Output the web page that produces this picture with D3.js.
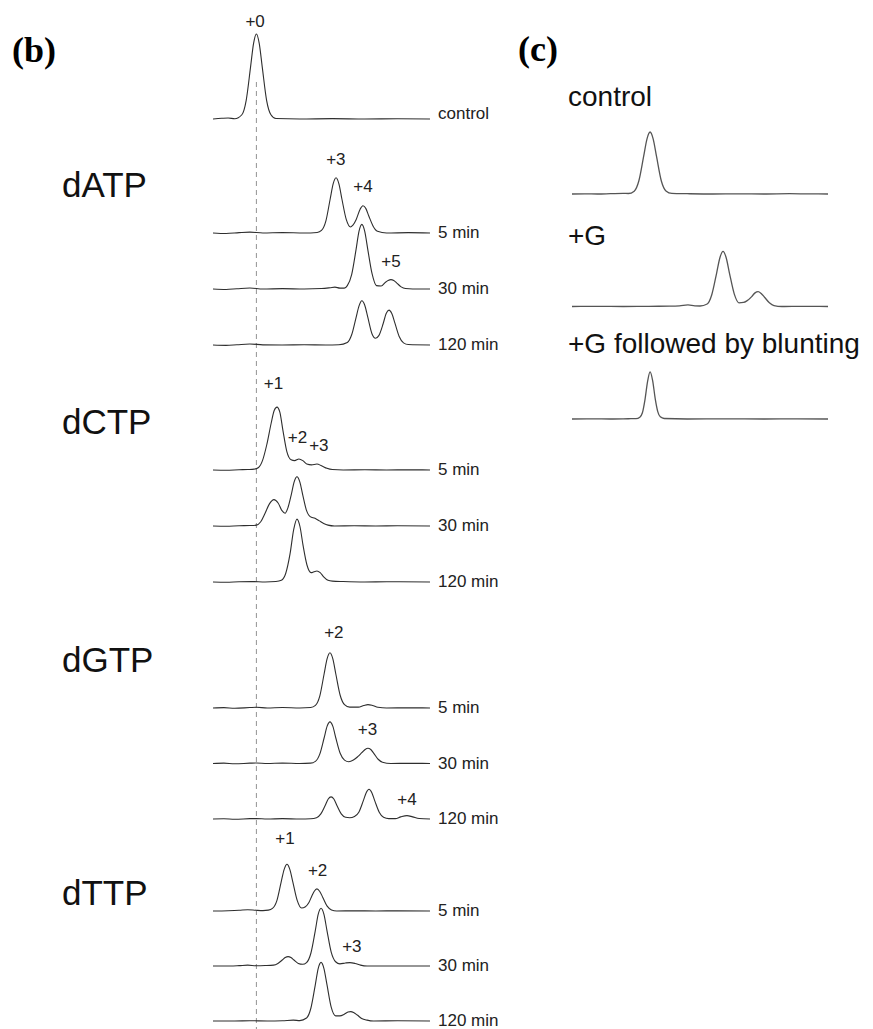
<!DOCTYPE html>
<html><head><meta charset="utf-8">
<script src="https://cdn.jsdelivr.net/npm/d3@7"></script>
<style>body{margin:0;background:#fff}svg{display:block}</style>
</head><body>
<svg id="chart" width="873" height="1029"></svg>
<script>
// ---------- DATA (migration position, signal) ----------
const groupNames = ["dATP", "dCTP", "dGTP", "dTTP"];
const timeLabels = ["5 min", "30 min", "120 min"];

const controlB = [[-20,0],[-16,0.8],[-13,1.2],[-10,0.3],[-6.7,5],[-4.7,22],[-2.7,61],[-1.3,89],[0,100],[1.3,89],[2.7,61],[4.7,22],[6.7,5],[9,0.5],[20,0],[35,0.4],[50,0],[65,0.3],[80,0]];

const dATP5 = [[-20,0],[-14,-0.6],[-8,0.4],[-3,1],[3,0],[12,0.5],[22,0],[28,0.6],[30,3],[32,14],[34,40],[35.4,58],[36.7,65],[38,58],[39.4,40],[41.4,16],[43.4,7],[44.4,9],[46,16],[47.8,28],[49.1,32],[50.4,29],[51.8,20],[53.8,8],[55.8,2],[60,0],[70,0.4],[80,0]];
const dATP30 = [[-20,0],[-14,-0.5],[-9,0.3],[-3,1.2],[3,0],[12,0.4],[22,0],[30,0.5],[34,1.5],[36.2,2.2],[38.5,1],[40.5,1],[41.9,4],[43.9,17],[45.9,46],[47.3,68],[48.6,76],[49.9,68],[51.3,47],[53.3,18],[55.3,4],[57.5,3.5],[59.5,8],[60.7,10],[62,11],[63.3,10],[64.7,7],[66.7,2.5],[68.7,0.5],[72,0],[80,0]];
const dATP120 = [[-20,0],[-14,-0.4],[-9,0.3],[-3,1.2],[3,0.2],[12,0],[22,0.3],[32,0],[38,0.3],[41.9,3],[43.9,12],[45.9,32],[47.3,46],[48.6,52],[49.9,47],[51.3,33],[53.3,13],[54.9,8],[56.4,11],[58.4,25],[59.8,37],[61.1,41],[62.4,37],[63.8,26],[65.8,10],[67.8,2.5],[70,0.5],[80,0]];

const dCTP5 = [[-20,0],[-14,-0.3],[-8,0.3],[-4,0.6],[-1,1],[1,3],[2.8,11],[4.8,30],[6.8,55],[8.2,70],[9.5,74],[10.8,68],[12.2,47],[14,22],[16,12],[17.6,11],[19.6,13],[21.4,11],[23.2,7],[25.4,6],[27.9,7],[30,5],[32.5,2],[35,0.5],[40,0],[50,0.3],[60,0],[70,0.2],[80,0]];
const dCTP30 = [[-20,0],[-14,-0.3],[-8,0.3],[-3,0.5],[0,1],[2,5],[4,15],[6,26],[8.1,31],[10,27],[11.8,18],[13.2,15],[14.6,22],[16,36],[17.4,52],[18.7,58],[20,52],[21.4,36],[23,19],[24.8,11],[27,9],[29,6],[31,3],[33,1],[36,0],[45,0.3],[55,0],[65,0.3],[80,0]];
const dCTP120 = [[-20,0],[-14,-0.3],[-8,0.3],[-2,0.5],[4,0],[9,0.5],[11.5,2],[13.5,10],[15.5,33],[17.2,62],[18.7,74],[20.1,65],[21.5,43],[23.3,20],[25.2,11],[26.5,12],[27.9,13],[29.4,11],[31,6],[33,2],[35,1],[40,0.5],[50,0],[60,0.3],[80,0]];

const dGTP5 = [[-20,0],[-15,0.4],[-10,-0.3],[-3,0.5],[0,0.8],[5,0],[12,0.6],[20,0],[25,0.5],[27.2,3],[29.2,14],[31.2,40],[32.6,58],[33.9,65],[35.2,58],[36.6,40],[38.6,15],[40.6,4],[43,1],[47,1],[49.5,3],[51.4,4],[53.5,3],[56,0.8],[60,0],[70,0.2],[80,0]];
const dGTP30 = [[-20,0],[-15,0.4],[-10,-0.3],[-3,0.4],[0,0.6],[5,0],[12,0.5],[20,0],[25,0.4],[27.2,2.5],[29.2,11],[31.2,30],[32.6,44],[33.9,49],[35.2,44],[36.6,30],[38.6,12],[40.6,4],[42.6,2],[44.7,4],[46.7,8],[48.7,13],[50.1,16.5],[51.4,18],[52.7,16.5],[54.1,12],[56.1,5],[58.1,1.5],[62,0],[70,0.2],[80,0]];
const dGTP120 = [[-20,0],[-15,0.3],[-10,-0.3],[-3,0.4],[0,0.5],[5,0],[12,0.4],[20,0],[25,0.3],[27.7,1.5],[29.7,6],[31.7,16],[33.1,23.5],[34.4,26],[35.7,23.5],[37.1,16],[39.1,6],[41.1,2],[43,1.5],[45.2,3],[47.2,8],[49.2,21],[50.6,31],[51.9,35],[53.2,31],[54.6,21],[56.6,8],[58.6,2],[61,0.5],[64,0.5],[66.5,2.5],[69.4,4],[72,2.5],[75,0.5],[80,0]];

const dTTP5 = [[-20,0],[-13,0.3],[-8,0.8],[-4,1.5],[0,0.8],[3,0.5],[5.5,1],[7.4,3],[9.4,12],[11.4,34],[12.8,49],[14.1,55],[15.4,49],[16.8,34],[18.8,12.5],[20.8,3.5],[22.6,5],[24.2,10],[25.6,18],[26.6,23],[27.9,26],[29.2,23],[30.6,16],[32.6,5.7],[34.6,1.3],[37,0],[45,0.2],[55,0],[65,0.2],[80,0]];
const dTTP30 = [[-20,0],[-12,0],[-8,0.4],[-4,1],[0,0.3],[4,0.5],[7.9,1],[9.9,3],[11.9,7],[13.3,10],[14.6,11],[15.9,10],[17.3,7],[19.3,3],[21.3,2],[23.1,4],[25.1,15],[27.1,41],[28.5,61],[29.8,68],[31.1,61],[32.5,42],[34.5,16],[36.5,5],[38.5,2.5],[41,3.5],[43.1,4],[45.5,3],[48,1],[51,0],[60,0],[80,0]];
const dTTP120 = [[-20,0],[-10,0],[-3,0.3],[5,0],[12,0.3],[17,1],[20,0.5],[23.1,3.5],[25.1,15],[27.1,42],[28.5,62],[29.8,69],[31.1,62],[32.5,43],[34.5,16],[36.5,6],[38.5,6],[40.5,8],[42.2,10.5],[43.5,11],[44.8,10],[46.5,7],[48.5,3],[51,1],[54,0],[65,0.3],[80,0]];

// peak labels: text, row index, position, signal level of label baseline
const peakLabelText = ["+0","+3","+4","+5","+1","+2","+3","+2","+3","+4","+1","+2","+3"];
const peakLabelRow  = [0, 1, 1, 2, 4, 4, 4, 7, 8, 9, 10, 10, 11];
const peakLabelPos  = [-0.6, 36.6, 49.1, 62, 7.9, 18.9, 28.8, 35.7, 51.2, 69.4, 13.2, 28.2, 44];
const peakLabelSig  = [108, 80, 48, 26, 95, 32, 22, 82, 34, 16.5, 79, 41, 16.5];

// panel (c)
const panelCTitles = ["control", "+G", "+G followed by blunting"];
const cControl = [[0,0],[5,0.3],[10,0],[15,0.5],[20,1],[22,0.8],[24.3,4.6],[26.1,21],[28,61],[29.3,89],[30.5,100],[31.7,89],[33,61],[34.9,21],[36.7,5],[39,1],[45,0.5],[55,0],[65,0.3],[75,0],[85,0.5],[92,0.2],[100,0]];
const cPlusG = [[0,0],[10,0.3],[20,0],[30,0.3],[38,0.5],[42,1],[45.3,2.5],[48,1],[50,0.8],[52.8,4],[54.6,19],[56.5,54],[57.8,79],[59,89],[60.2,79],[61.5,54],[63.4,20],[65.2,6],[67,6.5],[68.3,9],[70.2,16],[71.5,22],[72.7,24],[73.9,21],[75.2,15],[77.1,6],[78.9,1.5],[82,0],[90,0.3],[100,0]];
const cBlunt = [[0,0],[8,0.3],[15,0],[22,0.4],[25,0.6],[26.5,3],[27.5,10],[28.5,31],[29.5,60],[30.5,76],[31.5,62],[32.5,33],[33.5,12],[34.5,3.5],[36,0.8],[45,0],[60,0.3],[75,0],[88,0.3],[100,0]];

// ---------- DRAWING ----------
const svg = d3.select("#chart");
const tracesB = [controlB, dATP5, dATP30, dATP120, dCTP5, dCTP30, dCTP120, dGTP5, dGTP30, dGTP120, dTTP5, dTTP30, dTTP120];

const xB = d3.scaleLinear().domain([-20, 80]).range([213, 430]);
const sigB = d3.scaleLinear().domain([0, 100]).range([0, 85]);
const rowY = d3.scaleLinear().domain([0,1,3,4,6,7,9,10,12]).range([119,233,345,470,582,708,819,911,1021]);

const sans = "'Liberation Sans', Arial, Helvetica, sans-serif";
const serif = "'Liberation Serif', 'Times New Roman', serif";

// panel labels
svg.append("text").attr("x", 12).attr("y", 62).text("(b)")
  .style("font-family", serif).style("font-weight", "bold").style("font-size", "36px");
svg.append("text").attr("x", 518).attr("y", 61).text("(c)")
  .style("font-family", serif).style("font-weight", "bold").style("font-size", "36px");

// dashed reference line at +0
svg.append("line").attr("x1", xB(0)).attr("x2", xB(0)).attr("y1", 82).attr("y2", 1029)
  .attr("stroke", "#777").attr("stroke-width", 0.8).attr("stroke-dasharray", "5,4");

const lineGen = (xs, sig, base) => d3.line()
  .x(d => xs(d[0])).y(d => base - sig(d[1])).curve(d3.curveMonotoneX);

tracesB.forEach((tr, i) => {
  const base = rowY(i);
  svg.append("path").datum(tr).attr("d", lineGen(xB, sigB, base)(tr))
    .attr("fill", "none").attr("stroke", "#2e2e2e").attr("stroke-width", 1.1);
  const lab = i === 0 ? "control" : timeLabels[(i - 1) % 3];
  svg.append("text").attr("x", 438).attr("y", base + (i === 0 ? 0 : 5)).text(lab)
    .style("font-family", sans).style("font-size", "17px").attr("fill", "#222");
});

// group labels
groupNames.forEach((g, k) => {
  const r = 1 + 3 * k;
  const off = k === 3 ? -6 : -36;
  svg.append("text").attr("x", 62).attr("y", rowY(r) + off).text(g)
    .style("font-family", sans).style("font-size", "35px").attr("fill", "#111");
});

// peak labels
peakLabelText.forEach((t, j) => {
  const base = rowY(peakLabelRow[j]);
  svg.append("text").attr("x", xB(peakLabelPos[j])).attr("y", base - sigB(peakLabelSig[j]))
    .attr("text-anchor", "middle").text(t)
    .style("font-family", sans).style("font-size", "17px").attr("fill", "#222");
});

// panel (c)
const xC = d3.scaleLinear().domain([0, 100]).range([572, 828]);
const sigC = d3.scaleLinear().domain([0, 100]).range([0, 62]);
const cBase = d3.scalePoint().domain([0, 1, 2]).range([194, 419]);
const cTitleY = [106, 245, 353];
[cControl, cPlusG, cBlunt].forEach((tr, i) => {
  const base = cBase(i);
  svg.append("path").datum(tr).attr("d", lineGen(xC, sigC, base)(tr))
    .attr("fill", "none").attr("stroke", "#555").attr("stroke-width", 1.3);
  svg.append("text").attr("x", 568).attr("y", cTitleY[i]).text(panelCTitles[i])
    .style("font-family", sans).style("font-size", "28px").attr("fill", "#111");
});
</script>
</body></html>
